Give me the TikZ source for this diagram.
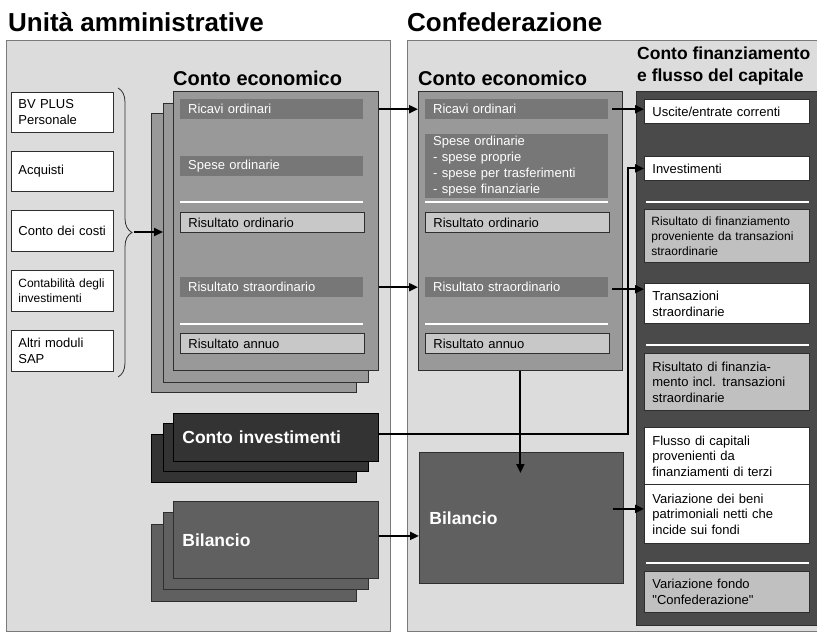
\documentclass[tikz,border=0pt]{standalone}
\usepackage{fontspec}
\setmainfont{Liberation Sans}
\newfontfamily\qfont{Liberation Sans}[Ligatures=TeXOff]
\usetikzlibrary{arrows.meta,decorations.pathreplacing,calc}
\definecolor{panelbg}{HTML}{DCDCDC}
\definecolor{panelline}{HTML}{7A7A7A}
\definecolor{ceg}{HTML}{999999}
\definecolor{barg}{HTML}{777777}
\definecolor{lightg}{HTML}{C8C8C8}
\definecolor{fing}{HTML}{4A4A4A}
\definecolor{invg}{HTML}{333333}
\definecolor{bilg}{HTML}{606060}
\definecolor{rfg}{HTML}{C0C0C0}
\definecolor{edgeg}{HTML}{2E2E2E}
\begin{document}
\begin{tikzpicture}[x=1pt,y=-1pt,
  every node/.style={inner ysep=0pt, align=left, anchor=north west,
    font=\fontsize{13}{16}\selectfont},
  panel/.style={draw=panelline, fill=panelbg, line width=1.1pt, inner sep=0pt},
  wcol/.style={draw=edgeg, fill=white, line width=0.8pt, minimum width=102pt, text width=88pt, inner xsep=7pt},
  cestk/.style={draw=edgeg, fill=ceg, line width=0.8pt, minimum width=205pt, minimum height=279pt, inner sep=0pt},
  invstk/.style={draw=black, fill=invg, line width=0.8pt, minimum width=205pt, minimum height=48pt, text width=187pt, inner xsep=9pt,
    text=white, font=\bfseries\fontsize{17.5}{20}\selectfont},
  bilstk/.style={draw=edgeg, fill=bilg, line width=0.8pt, minimum width=205pt, minimum height=77pt, text width=187pt, inner xsep=9pt,
    text=white, font=\bfseries\fontsize{17.5}{20}\selectfont},
  darkbar/.style={fill=barg, text=white, minimum width=183pt, minimum height=20pt, text width=167pt, inner xsep=8pt},
  lightbar/.style={draw=edgeg, fill=lightg, line width=0.8pt, minimum width=184pt, minimum height=20pt, text width=168pt, inner xsep=8pt},
  fcol/.style={draw=edgeg, fill=white, line width=0.8pt, minimum width=165pt, text width=149pt, inner xsep=8pt},
  frg/.style={fcol, fill=rfg},
  sepl/.style={white, line width=1.8pt},
  bigtitle/.style={anchor=base west, inner sep=0pt, font=\bfseries\fontsize{26}{30}\selectfont},
  subtitle/.style={anchor=base west, inner sep=0pt, font=\bfseries\fontsize{20}{24}\selectfont},
  fintitle/.style={anchor=base west, inner sep=0pt, font=\bfseries\fontsize{17.5}{22}\selectfont},
  conn/.style={line width=2pt, -{Triangle[length=9pt,width=8pt]}},
  brc/.style={line width=0.8pt, draw=edgeg, decorate, decoration={brace, amplitude=14pt}}]
\useasboundingbox (0,0) rectangle (817,635);
\clip (0,0) rectangle (817,635);
\fill[white] (0,0) rectangle (817,635);

% titles
\node[bigtitle] (tua) at (8,31) {Unità amministrative};
\node[bigtitle] (tcf) at (407,31) {Confederazione};

% panels
\node[panel, minimum width=384pt, minimum height=591pt] (lp) at (6,40) {};
\node[panel, minimum width=430pt, minimum height=591pt] (rp) at (407,40) {};

\node[subtitle] (tcel) at (173,85) {Conto economico};
\node[subtitle] (tcer) at (418,85) {Conto economico};
\node[fintitle] (tfa) at (637,59) {Conto finanziamento};
\node[fintitle] (tfb) at (637,81) {e flusso del capitale};

% left white boxes
\node[wcol, minimum height=40pt] (bvp) at (11,92) {BV PLUS\\Personale};
\node[wcol, minimum height=40pt] (acq) at (11,151) {Acquisti};
\node[wcol, minimum height=41pt] (cdc) at (11,210) {Conto dei costi};
\node[wcol, minimum height=41pt, font=\fontsize{12}{15}\selectfont] (cib) at (11,270) {Contabilità degli\\investimenti};
\node[wcol, minimum height=41pt] (alt) at (11,330) {Altri moduli\\SAP};

\draw[brc] (118,88) -- (118,377);
\coordinate (bt) at (134,232);

% left conto economico stack
\node[cestk] (ceb) at (151,113) {};
\node[cestk] (cem) at (163,103) {};
\node[cestk] (cef) at (173,91) {};
\node[darkbar] (ricL) at (180,99) {Ricavi ordinari};
\node[darkbar] (speL) at (180,156) {Spese ordinarie};
\draw[sepl] (180,202) -- (363,202);
\node[lightbar] (risL) at (180,212) {Risultato ordinario};
\node[darkbar] (strL) at (180,277) {Risultato straordinario};
\draw[sepl] (180,324) -- (363,324);
\node[lightbar] (annL) at (180,333) {Risultato annuo};

% left conto investimenti stack
\node[invstk] (invB) at (151,434) {};
\node[invstk] (invM) at (163,423) {};
\node[invstk] (invF) at (173,413) {Conto investimenti};

% left bilancio stack
\node[bilstk] (bilB) at (151,524) {};
\node[bilstk] (bilM) at (163,512) {};
\node[bilstk] (bilF) at (173,501) {Bilancio};

% right conto economico
\node[cestk, minimum width=204pt] (cer) at (418,91) {};
\node[darkbar] (ricR) at (425,99) {Ricavi ordinari};
\node[darkbar, minimum height=64pt] (speR) at (425,134) {Spese ordinarie\\- spese proprie\\- spese per trasferimenti\\- spese finanziarie};
\draw[sepl] (425,202) -- (608,202);
\node[lightbar] (risR) at (425,212) {Risultato ordinario};
\node[darkbar] (strR) at (425,277) {Risultato straordinario};
\draw[sepl] (425,324) -- (608,324);
\node[lightbar] (annR) at (425,333) {Risultato annuo};

% right bilancio
\node[bilstk, minimum width=204pt, minimum height=131pt, text width=184pt, inner xsep=10pt] (bilR) at (419,452) {Bilancio};

% conto finanziamento panel
\node[draw=edgeg, fill=fing, line width=0.8pt, minimum width=200pt, minimum height=534pt, inner sep=0pt] (fin) at (636,91) {};
\node[fcol, minimum height=24pt] (usc) at (644,99) {Uscite/entrate correnti};
\node[fcol, minimum height=24pt] (invb) at (644,156) {Investimenti};
\draw[sepl] (646,202) -- (809,202);
\node[frg, minimum height=53pt, text width=151pt, inner xsep=7pt, font=\fontsize{12}{15}\selectfont] (rf1) at (644,209) {Risultato di finanziamento\\proveniente da transazioni\\straordinarie};
\node[fcol, minimum height=40pt] (trans) at (644,283) {Transazioni\\straordinarie};
\draw[sepl] (646,345) -- (809,345);
\node[frg, minimum height=57pt, font=\fontsize{13}{15.5}\selectfont] (rf2) at (644,353) {Risultato di finanzia-\\mento incl. transazioni\\straordinarie};
\node[fcol, minimum height=57pt, font=\fontsize{13}{15.5}\selectfont] (flu) at (644,427) {Flusso di capitali\\provenienti da\\finanziamenti di terzi};
\node[fcol, minimum height=59pt, font=\fontsize{13}{15.5}\selectfont] (var) at (644,484) {Variazione dei beni\\patrimoniali netti che\\incide sui fondi};
\draw[sepl] (646,563) -- (809,563);
\node[frg, minimum height=41pt] (vfo) at (644,571) {Variazione fondo\\{\qfont "Confederazione"}};

% connectors
\draw[conn] (bt) -- (bt -| cem.west);
\draw[conn] (cef.east |- ricL.center) -- (cer.west |- ricL.center);
\draw[conn] (cef.east |- strL.center) -- (cer.west |- strL.center);
\draw[conn] ($(ricR.east)+(4,0)$) -- (ricR.east -| usc.west);
\draw[conn] ($(strR.east)+(4,2)$) -- ($(strR.east -| trans.west)+(0,2)$);
\draw[conn] ($(invF.east)+(0,-3)$) -| ($(invb.west)+(-16,0)$) -- (invb.west);
\draw[conn] (cer.south) -- ($(cer.south |- bilR.north)+(0,21)$);
\draw[conn] ($(bilF.east)+(0,-4)$) -- ($(bilF.east -| bilR.west)+(0,-4)$);
\draw[conn] ($(var.west -| bilR.east)+(-11,-5)$) -- ($(var.west)+(0,-5)$);
\end{tikzpicture}
\end{document}
